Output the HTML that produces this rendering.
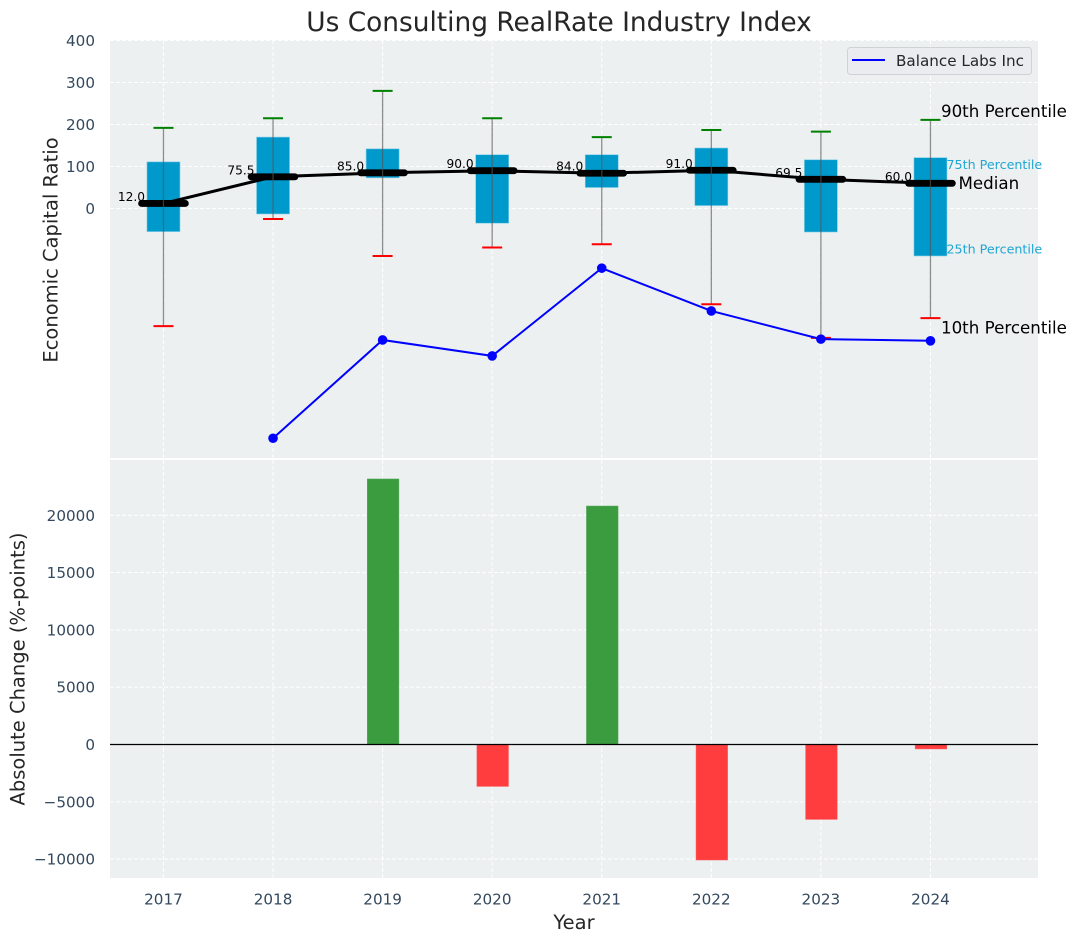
<!DOCTYPE html>
<html lang="en">
<head>
<meta charset="utf-8">
<title>Us Consulting RealRate Industry Index</title>
<style>
html,body{margin:0;padding:0;background:#fff;width:1076px;height:942px;overflow:hidden}
svg{display:block;font-family:"DejaVu Sans","Liberation Sans",sans-serif}
</style>
</head>
<body>
<svg id="chart" xmlns="http://www.w3.org/2000/svg" width="1076" height="942" viewBox="0 0 1076 942"></svg>
<script>
const years = [2017, 2018, 2019, 2020, 2021, 2022, 2023, 2024];
const p90 = [192, 215, 280, 215, 170, 187, 183, 211];
const p75 = [111, 170, 142, 128, 128, 144, 116, 121];
const medians = [12, 75.5, 85, 90, 84, 91, 69.5, 60];
const p25 = [-55, -13, 73, -35, 50, 7, -56, -113];
const p10 = [-280, -25, -113, -93, -85, -228, -308, -261];
const balanceLabs = [null, -547, -313, -351, -142, -244, -311, -315];
const absoluteChange = [null, null, 23170, -3660, 20810, -10080, -6540, -390];
const topTicks = [0, 100, 200, 300, 400];
const bottomTicks = [-10000, -5000, 0, 5000, 10000, 15000, 20000];

const NS = 'http://www.w3.org/2000/svg';
const svg = document.getElementById('chart');
const L = 110, R = 1038;
const x = v => L + (v - 2016.512) * 109.57;
const yTop = v => 208.5 - v * 0.42;
const yBot = v => 744.5 - v * 0.01146;

function add(tag, name, attrs, text) {
  const el = document.createElementNS(NS, tag);
  
  
  for (const k in attrs) el.setAttribute(k, attrs[k]);
  if (text !== undefined) el.textContent = text;
  svg.appendChild(el);
  return el;
}

const tickColor = '#34495e';
const gridAttrs = {stroke: '#ffffff', 'stroke-width': 1.1, 'stroke-dasharray': '4 2', 'stroke-opacity': 0.9};

/* panels */
add('rect', 'top-panel-background', {x: L, y: 40, width: R - L, height: 418, fill: '#ecf0f1'});
add('rect', 'bottom-panel-background', {x: L, y: 460, width: R - L, height: 418, fill: '#ecf0f1'});

/* grids */
years.forEach(yr => {
  add('line', 'top-grid-vertical', Object.assign({x1: x(yr), x2: x(yr), y1: 40, y2: 458}, gridAttrs));
  add('line', 'bottom-grid-vertical', Object.assign({x1: x(yr), x2: x(yr), y1: 460, y2: 878}, gridAttrs));
});
topTicks.forEach(t => {
  add('line', 'top-grid-horizontal', Object.assign({x1: L, x2: R, y1: yTop(t), y2: yTop(t)}, gridAttrs));
  add('text', 'top-y-tick-label', {x: 95, y: yTop(t) + 5.5, 'text-anchor': 'end', 'font-size': 15.2, fill: tickColor}, String(t));
});
bottomTicks.forEach(t => {
  add('line', 'bottom-grid-horizontal', Object.assign({x1: L, x2: R, y1: yBot(t), y2: yBot(t)}, gridAttrs));
  add('text', 'bottom-y-tick-label', {x: 95, y: yBot(t) + 5.5, 'text-anchor': 'end', 'font-size': 15.2, fill: tickColor}, t < 0 ? '\u2212' + Math.abs(t) : String(t));
});

/* boxes */
years.forEach((yr, i) => {
  const cx = x(yr);
  add('rect', 'iqr-box-' + yr, {x: cx - 16.5, y: yTop(p75[i]), width: 33, height: yTop(p25[i]) - yTop(p75[i]), fill: '#0099cc', stroke: '#7fcce5', 'stroke-width': 0.6});
});

/* median connector */
add('polyline', 'median-trend-line', {
  points: years.map((yr, i) => x(yr) + ',' + yTop(medians[i])).join(' '),
  fill: 'none', stroke: '#000', 'stroke-width': 3, 'stroke-linejoin': 'round'
});

/* medians, whiskers, caps, labels */
years.forEach((yr, i) => {
  const cx = x(yr);
  add('line', 'median-bar-' + yr, {x1: cx - 21.9, x2: cx + 21.9, y1: yTop(medians[i]), y2: yTop(medians[i]), stroke: '#000', 'stroke-width': 6.8, 'stroke-linecap': 'round'});
  add('line', 'whisker-' + yr, {x1: cx, x2: cx, y1: yTop(p90[i]), y2: yTop(p10[i]), stroke: '#555', 'stroke-opacity': 0.65, 'stroke-width': 1.3});
  add('line', 'cap-90th-' + yr, {x1: cx - 10, x2: cx + 10, y1: yTop(p90[i]), y2: yTop(p90[i]), stroke: '#008000', 'stroke-width': 2});
  add('line', 'cap-10th-' + yr, {x1: cx - 10, x2: cx + 10, y1: yTop(p10[i]), y2: yTop(p10[i]), stroke: '#ff0000', 'stroke-width': 2});
  add('text', 'median-value-' + yr, {x: cx - 18.5, y: yTop(medians[i]) - 2.5, 'text-anchor': 'end', 'font-size': 12.2, fill: '#000'}, medians[i].toFixed(1));
});

/* company line */
const blueYears = years.filter((_, i) => balanceLabs[i] !== null);
const blueVals = balanceLabs.filter(v => v !== null);
add('polyline', 'balance-labs-line', {
  points: blueYears.map((yr, i) => x(yr) + ',' + yTop(blueVals[i])).join(' '),
  fill: 'none', stroke: '#0000ff', 'stroke-width': 2
});
blueYears.forEach((yr, i) => {
  add('circle', 'balance-labs-point-' + yr, {cx: x(yr), cy: yTop(blueVals[i]), r: 4.8, fill: '#0000ff'});
});

/* annotations */
const lastI = years.length - 1;
const lastX = x(years[lastI]);
add('text', 'annotation-90th-percentile', {x: lastX + 10.5, y: yTop(p90[lastI]) - 3, 'font-size': 16.7, fill: '#000'}, '90th Percentile');
add('text', 'annotation-75th-percentile', {x: lastX + 16, y: yTop(p75[lastI]) + 11.5, 'font-size': 12.7, fill: '#1fa6d2'}, '75th Percentile');
add('text', 'annotation-median', {x: lastX + 28, y: yTop(medians[lastI]) + 5.5, 'font-size': 16.7, fill: '#000'}, 'Median');
add('text', 'annotation-25th-percentile', {x: lastX + 16, y: yTop(p25[lastI]) - 2.5, 'font-size': 12.7, fill: '#1fa6d2'}, '25th Percentile');
add('text', 'annotation-10th-percentile', {x: lastX + 10.5, y: yTop(p10[lastI]) + 15.5, 'font-size': 16.7, fill: '#000'}, '10th Percentile');

/* bars */
years.forEach((yr, i) => {
  const v = absoluteChange[i];
  if (v === null) return;
  const cx = x(yr) + 0.5;
  add('rect', 'change-bar-' + yr, {
    x: cx - 15.8, y: Math.min(yBot(v), yBot(0)), width: 31.6, height: Math.abs(yBot(v) - yBot(0)),
    fill: v >= 0 ? '#3a9b3f' : '#ff3d3f', stroke: v >= 0 ? '#55a85a' : '#ff6163', 'stroke-width': 0.5
  });
});
add('line', 'zero-baseline', {x1: L, x2: R, y1: yBot(0), y2: yBot(0), stroke: '#000', 'stroke-width': 1.3});

/* x tick labels */
years.forEach(yr => {
  add('text', 'x-tick-label-' + yr, {x: x(yr), y: 904.5, 'text-anchor': 'middle', 'font-size': 15.2, fill: tickColor}, String(yr));
});

/* titles */
add('text', 'chart-title', {x: 559, y: 31, 'text-anchor': 'middle', 'font-size': 26.4, fill: '#262626'}, 'Us Consulting RealRate Industry Index');
add('text', 'x-axis-title', {x: 574, y: 929, 'text-anchor': 'middle', 'font-size': 19.5, fill: '#262626'}, 'Year');
add('text', 'top-y-axis-title', {x: 0, y: 0, transform: 'translate(57.5,250) rotate(-90)', 'text-anchor': 'middle', 'font-size': 19.5, fill: '#262626'}, 'Economic Capital Ratio');
add('text', 'bottom-y-axis-title', {x: 0, y: 0, transform: 'translate(24.5,669) rotate(-90)', 'text-anchor': 'middle', 'font-size': 19.5, fill: '#262626'}, 'Absolute Change (%-points)');

/* legend */
add('rect', 'legend-box', {x: 847.5, y: 47.5, width: 184, height: 27, rx: 3, fill: '#eaecf0', stroke: '#d0d3d6', 'stroke-width': 1});
add('line', 'legend-line-balance-labs', {x1: 852, x2: 885, y1: 60, y2: 60, stroke: '#0000ff', 'stroke-width': 2});
add('text', 'legend-label-balance-labs', {x: 896, y: 66, 'font-size': 15.2, fill: '#262626'}, 'Balance Labs Inc');
</script>
</body>
</html>
